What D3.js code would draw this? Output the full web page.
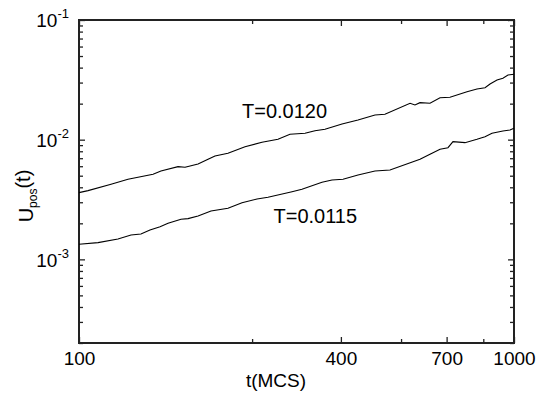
<!DOCTYPE html>
<html>
<head>
<meta charset="utf-8">
<script src="https://cdn.jsdelivr.net/npm/d3@7"></script>
<style>
  body { margin: 0; background: #fff; }
  text { font-family: "Liberation Sans", Arial, sans-serif; fill: #000; }
  .domain { display: none; }
</style>
</head>
<body>
<div id="container"></div>
<script>
/* CONSTANTS AND GLOBALS */
const width = 542,
  height = 394,
  margin = { top: 20, bottom: 51, left: 79, right: 28 }

// T=0.0120 curve
const tUpper = [100, 104.9, 118.5, 129.6, 148, 154.3, 168.9, 175.3, 187.8, 198, 205.4, 220, 240.8, 263.4,
  286.7, 305.5, 330.8, 348.7, 367.7, 402.4, 437.9, 479.1, 505, 576.8, 592, 608, 641, 676, 712.6, 779.8,
  822, 857.8, 880.8, 914, 943, 968.7, 1000]
const uUpper = [3.61e-3, 3.75e-3, 4.24e-3, 4.67e-3, 5.14e-3, 5.48e-3, 5.95e-3, 5.88e-3, 6.27e-3, 6.86e-3,
  7.31e-3, 7.70e-3, 8.74e-3, 9.51e-3, 1.008e-2, 1.11e-2, 1.131e-2, 1.189e-2, 1.221e-2, 1.352e-2, 1.461e-2,
  1.608e-2, 1.630e-2, 2.014e-2, 1.950e-2, 2.038e-2, 2.014e-2, 2.243e-2, 2.26e-2, 2.518e-2, 2.652e-2,
  2.719e-2, 2.92e-2, 3.15e-2, 3.26e-2, 3.47e-2, 3.52e-2]

// T=0.0115 curve
const tLower = [100, 110.6, 122.9, 131.7, 138.8, 145.6, 153.6, 160.2, 171.6, 178.1, 187.8, 201.1, 220, 237,
  256.6, 271.9, 289.8, 308.8, 325.5, 361.9, 381.6, 404.5, 437.9, 479.1, 518.7, 586, 608, 641, 676, 705,
  724, 771.5, 822, 857.8, 890, 943, 979, 1000]
const uLower = [1.337e-3, 1.379e-3, 1.480e-3, 1.599e-3, 1.630e-3, 1.760e-3, 1.875e-3, 2.001e-3, 2.163e-3,
  2.188e-3, 2.305e-3, 2.537e-3, 2.673e-3, 2.977e-3, 3.196e-3, 3.302e-3, 3.484e-3, 3.676e-3, 3.85e-3,
  4.405e-3, 4.604e-3, 4.667e-3, 5.07e-3, 5.476e-3, 5.58e-3, 6.55e-3, 6.86e-3, 7.55e-3, 8.31e-3, 8.57e-3,
  9.62e-3, 9.44e-3, 1.008e-2, 1.059e-2, 1.131e-2, 1.182e-2, 1.205e-2, 1.245e-2]

const seriesLabels = ["T=0.0120", "T=0.0115"]

const xMajor = [100, 400, 700, 1000]
const xMinor = [250, 550, 850]
const yMajor = [1e-3, 1e-2, 1e-1]
const yExponents = ["-3", "-2", "-1"]
const yMinor = [2, 3, 4, 5, 6, 7, 8, 9].flatMap(m => [m * 1e-4, m * 1e-3, m * 1e-2])

/* SCALES */
const xScale = d3.scaleLog()
  .domain([100, 1000])
  .range([margin.left, width - margin.right])

const yScale = d3.scaleLog()
  .domain([2e-4, 1e-1])
  .range([height - margin.bottom, margin.top])

/* SVG */
const svg = d3.select("#container")
  .append("svg")
  .attr("width", width)
  .attr("height", height)

const fontSize = 19

// ticks on all four sides, pointing inward
const bottomMajor = d3.axisBottom(xScale).tickValues(xMajor).tickSize(-6).tickPadding(9).tickFormat(d3.format("d"))
const bottomMinor = d3.axisBottom(xScale).tickValues(xMinor).tickSize(-4).tickFormat("")
const topMajor = d3.axisTop(xScale).tickValues(xMajor).tickSize(-6).tickFormat("")
const topMinor = d3.axisTop(xScale).tickValues(xMinor).tickSize(-4).tickFormat("")
const leftMajor = d3.axisLeft(yScale).tickValues(yMajor).tickSize(-6).tickPadding(9).tickFormat("")
const leftMinor = d3.axisLeft(yScale).tickValues(yMinor).tickSize(-4).tickFormat("")
const rightMajor = d3.axisRight(yScale).tickValues(yMajor).tickSize(-6).tickFormat("")
const rightMinor = d3.axisRight(yScale).tickValues(yMinor).tickSize(-4).tickFormat("")

const bottomY = height - margin.bottom
const rightX = width - margin.right

const axes = [
  [bottomMajor, 0, bottomY], [bottomMinor, 0, bottomY],
  [topMajor, 0, margin.top], [topMinor, 0, margin.top],
  [leftMajor, margin.left, 0], [leftMinor, margin.left, 0],
  [rightMajor, rightX, 0], [rightMinor, rightX, 0]
]

const axisGroups = axes.map(([ax, tx, ty]) => svg.append("g")
  .attr("transform", `translate(${tx}, ${ty})`)
  .call(ax)
  .call(g => g.selectAll(".tick line").attr("stroke", "#222").attr("stroke-width", 1.3))
  .call(g => g.selectAll(".tick text").attr("font-size", fontSize).attr("fill", "#000")))

// y tick labels 10^n with superscript
axisGroups[4].selectAll(".tick text")
  .attr("dy", "0.36em")
  .attr("x", -10)
  .each(function (d, i) {
    const t = d3.select(this)
    t.append("tspan").text("10")
    t.append("tspan").attr("font-size", 13).attr("dy", "-0.7em").text(yExponents[i])
  })

// frame
svg.append("rect")
  .attr("x", margin.left)
  .attr("y", margin.top)
  .attr("width", rightX - margin.left)
  .attr("height", bottomY - margin.top)
  .attr("fill", "none")
  .attr("stroke", "#222")
  .attr("stroke-width", 2)

/* LINES */
const lineGen = d3.line()
  .x(d => xScale(d[0]))
  .y(d => yScale(d[1]))

const series = [d3.zip(tUpper, uUpper), d3.zip(tLower, uLower)]

svg.selectAll(".curve")
  .data(series)
  .join("path")
  .attr("class", "curve")
  .attr("fill", "none")
  .attr("stroke", "#000")
  .attr("stroke-width", 1.1)
  .attr("d", d => lineGen(d))

// curve labels
svg.append("text")
  .attr("x", xScale(237))
  .attr("y", yScale(1.51e-2))
  .attr("font-size", fontSize + 1)
  .text(seriesLabels[0])

svg.append("text")
  .attr("x", xScale(280))
  .attr("y", yScale(2.0e-3))
  .attr("font-size", fontSize + 1)
  .text(seriesLabels[1])

/* AXIS LABELS */
svg.append("text")
  .attr("x", 276)
  .attr("y", 387)
  .attr("text-anchor", "middle")
  .attr("font-size", fontSize)
  .text("t(MCS)")

const yLabel = svg.append("text")
  .attr("transform", `translate(33, 196) rotate(-90)`)
  .attr("text-anchor", "middle")
  .attr("font-size", fontSize + 1)

yLabel.append("tspan").text("U")
yLabel.append("tspan").attr("font-size", 12).attr("dy", "0.35em").text("pos")
yLabel.append("tspan").attr("dy", "-0.35em").text("(t)")
</script>
</body>
</html>
